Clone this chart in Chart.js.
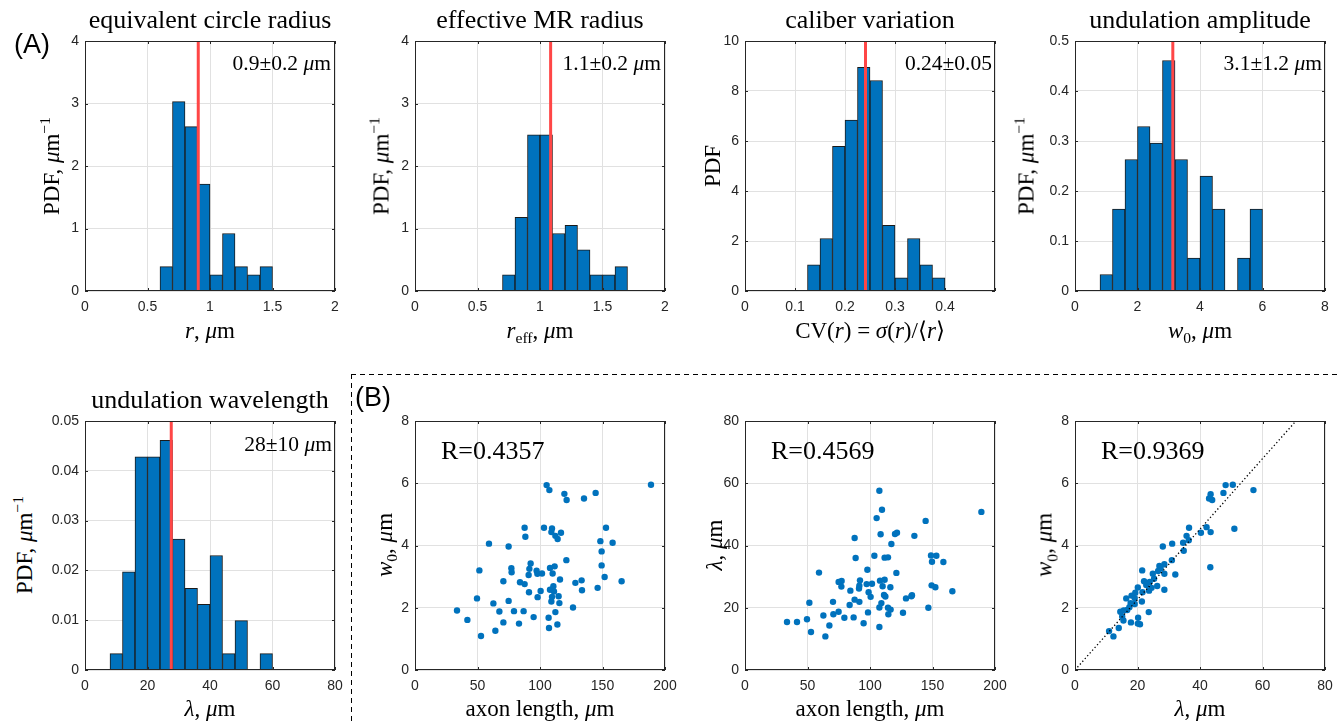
<!DOCTYPE html>
<html>
<head>
<meta charset="utf-8">
<script src="https://cdn.jsdelivr.net/npm/chart.js@4.4.1/dist/chart.umd.min.js"></script>
<style>
  body { margin: 0; background: #fff; }
  #page { position: relative; width: 1341px; height: 722px; overflow: hidden; background: #fff; }
  canvas { position: absolute; }
  .txt { position: absolute; white-space: nowrap; font-family: "Liberation Serif", serif; color: #000; line-height: 1; }
  .txt sub, .txt sup { font-size: 0.68em; line-height: 0; }
  .tag { position: absolute; font-family: "Liberation Sans", Arial, sans-serif; font-size: 27px; color: #000; line-height: 1; }
  .dashH { position: absolute; height: 1.4px; background: repeating-linear-gradient(to right, #000 0 5px, transparent 5px 9px); }
  .dashV { position: absolute; width: 1.4px; background: repeating-linear-gradient(to bottom, #000 0 5px, transparent 5px 9px); }
</style>
</head>
<body>
<div id="page"></div>
<script>
// ---- histogram data (PDF per bin) ----
var rCenters = [0.65, 0.75, 0.85, 0.95, 1.05, 1.15, 1.25, 1.35, 1.45];
var rPdf = [0.39, 3.03, 2.63, 1.71, 0.26, 0.92, 0.39, 0.26, 0.39];
var rMean = 0.906;

var reffCenters = [0.75, 0.85, 0.95, 1.05, 1.15, 1.25, 1.35, 1.45, 1.55, 1.65];
var reffPdf = [0.26, 1.18, 2.50, 2.50, 0.92, 1.05, 0.66, 0.26, 0.26, 0.39];
var reffMean = 1.085;

var cvCenters = [0.1375, 0.1625, 0.1875, 0.2125, 0.2375, 0.2625, 0.2875, 0.3125, 0.3375, 0.3625, 0.3875];
var cvPdf = [1.05, 2.10, 5.79, 6.84, 8.95, 8.42, 2.63, 0.53, 2.10, 1.05, 0.53];
var cvMean = 0.241;

var w0Centers = [1.0, 1.4, 1.8, 2.2, 2.6, 3.0, 3.4, 3.8, 4.2, 4.6, 5.0, 5.4, 5.8];
var w0Pdf = [0.033, 0.164, 0.263, 0.329, 0.296, 0.461, 0.263, 0.066, 0.230, 0.164, 0, 0.066, 0.164];
var w0Mean = 3.13;

var lamCenters = [10, 14, 18, 22, 26, 30, 34, 38, 42, 46, 50, 54, 58];
var lamPdf = [0.0033, 0.0197, 0.0428, 0.0428, 0.0461, 0.0263, 0.0164, 0.0132, 0.0230, 0.0033, 0.0099, 0, 0.0033];
var lamMean = 27.6;

// ---- scatter data ----
var lenA = [105.3, 107.5, 119.5, 121.3, 135.2, 144.5, 188.8, 87.7, 88.3, 103.2, 109.6, 109.1, 116.8, 112.3, 114.1, 152.8, 148.3, 158.1, 59.2, 74.9,
  149.3, 121.1, 149.3, 151.7, 165.3, 146.1, 51.5, 77.1, 77.3, 92.5, 91.5, 90.9, 97.3, 97.9, 101.6, 108, 111.7, 110.1, 116, 70.7,
  84, 87.7, 91.2, 100.5, 98.1, 108, 110.7, 111.2, 109.6, 114.9, 109.1, 115.5, 128.3, 133.3, 133.6, 49.6, 62.7, 74.9, 67.5, 79.2,
  86.9, 70.7, 83.2, 94.9, 106.9, 112.3, 113.9, 107.2, 126.4, 33.6, 41.9, 52.8, 64.3];
var w0A = [5.94, 5.78, 5.66, 5.46, 5.51, 5.69, 5.95, 4.57, 4.28, 4.57, 4.55, 4.43, 4.41, 4.31, 4.21, 4.57, 4.14, 4.09, 4.06, 3.97,
  3.81, 3.53, 3.36, 2.99, 2.85, 2.64, 3.20, 3.27, 3.14, 3.42, 3.25, 3.05, 3.19, 3.09, 3.10, 3.28, 3.33, 3.10, 2.91, 2.85,
  2.82, 2.76, 2.50, 2.54, 2.34, 2.58, 2.69, 2.52, 2.35, 2.37, 2.20, 2.15, 2.80, 2.88, 2.56, 2.30, 2.14, 2.22, 1.88, 1.89,
  1.89, 1.53, 1.49, 1.70, 1.68, 1.86, 1.46, 1.35, 2.01, 1.91, 1.61, 1.09, 1.26];

var lenB = [107.5, 109.6, 105.3, 144.5, 189.1, 87.7, 108.5, 120, 121.6, 135.5, 117.1, 88.5, 103.5, 111.7, 114.4, 148.8, 153.1, 149.6, 158.7, 59.2,
  97.9, 121.1, 74.9, 77.3, 77.1, 84.3, 92, 91.5, 91.2, 97.3, 101.6, 108, 111.7, 110.1, 116.3, 98.9, 100.5, 111.2, 112.3, 149.3,
  152.3, 165.9, 133.6, 128.8, 133.1, 51.5, 70.4, 87.7, 91.5, 83.7, 109.1, 107.5, 114.4, 116.5, 114.7, 62.7, 70.7, 74.9, 79.5, 86.9,
  98.4, 126.4, 146.7, 33.6, 41.6, 49.6, 67.5, 52.8, 64.3, 94.9, 107.5];
var lamB = [57.6, 51.5, 48.8, 47.9, 50.8, 42.4, 43.6, 43.7, 44.1, 43.1, 40.5, 36.0, 36.7, 36.1, 36.2, 36.8, 36.7, 34.8, 34.7, 31.3,
  32.2, 31.2, 28.3, 28.6, 26.8, 25.5, 28.8, 27.1, 26.2, 27.6, 27.7, 28.7, 29.0, 26.9, 26.6, 25.0, 23.5, 24.1, 23.6, 27.2,
  26.6, 25.3, 24.0, 23.0, 23.7, 21.6, 21.9, 22.6, 21.9, 20.9, 21.5, 20.1, 20.0, 19.4, 17.9, 17.5, 17.9, 18.7, 16.8, 16.9,
  18.5, 18.4, 20.0, 15.4, 15.4, 16.3, 14.3, 12.2, 10.8, 15.0, 13.8];

var lamC = [48.2, 50.5, 57.1, 47.5, 43.4, 42.9, 43.9, 36.5, 42.1, 40.3, 43.4, 51.0, 35.7, 36.4, 34.6, 34.8, 28.1, 31.1, 43.3, 31.0,
  28.6, 27.0, 27.4, 26.6, 28.6, 32.1, 21.5, 24.9, 25.3, 23.9, 22.1, 22.8, 26.3, 24.5, 23.7, 28.6, 20.1, 21.6, 19.3, 18.1,
  16.4, 19.1, 21.4, 17.8, 19.1, 17.4, 15.6, 14.5, 16.7, 23.6, 15.1, 15.5, 17.9, 20.2, 20.1, 20.8, 14.0, 10.9, 12.3];
var w0C = [5.94, 5.95, 5.78, 5.69, 5.65, 5.51, 5.46, 4.57, 4.59, 4.41, 4.43, 4.54, 4.31, 4.17, 4.09, 3.83, 3.97, 4.06, 3.30, 3.53,
  3.40, 3.34, 3.26, 3.18, 3.09, 3.07, 3.20, 3.09, 2.93, 2.83, 2.85, 2.73, 2.70, 2.64, 2.55, 2.58, 2.65, 2.50, 2.48, 2.39,
  2.30, 2.31, 2.20, 2.15, 2.12, 2.02, 1.91, 1.87, 1.93, 1.86, 1.72, 1.59, 1.53, 1.68, 1.49, 1.47, 1.35, 1.25, 1.08];
var refLam = [0, 70.7];
var refW0 = [0, 8];

// ---- styling ----
Chart.defaults.animation = false;
Chart.defaults.plugins.legend.display = false;
Chart.defaults.plugins.tooltip.enabled = false;

var BLUE = '#0072bd';
var RED = '#ff4646';
var AXIS = '#262626';
var GRID = '#e1e1e1';
var tickFont = { family: 'Liberation Sans', size: 14 };
var page = document.getElementById('page');

var boxPlugin = {
  id: 'box',
  afterDatasetsDraw: function (chart) {
    var a = chart.chartArea, ctx = chart.ctx;
    ctx.save();
    ctx.strokeStyle = AXIS;
    ctx.lineWidth = 1;
    ctx.strokeRect(a.left + 0.5, a.top + 0.5, a.right - a.left - 1, a.bottom - a.top - 1);
    ctx.beginPath();
    chart.scales.x.ticks.forEach(function (t) {
      var px = Math.round(chart.scales.x.getPixelForValue(t.value)) + 0.5;
      ctx.moveTo(px, a.bottom); ctx.lineTo(px, a.bottom - 3);
      ctx.moveTo(px, a.top); ctx.lineTo(px, a.top + 3);
    });
    chart.scales.y.ticks.forEach(function (t) {
      var py = Math.round(chart.scales.y.getPixelForValue(t.value)) + 0.5;
      ctx.moveTo(a.left, py); ctx.lineTo(a.left + 3, py);
      ctx.moveTo(a.right, py); ctx.lineTo(a.right - 3, py);
    });
    ctx.stroke();
    ctx.restore();
  }
};

function fmt(v) { return String(+v.toFixed(3)); }

function axes(xMax, xStep, yMax, yStep, hideXMax) {
  return {
    x: {
      type: 'linear', min: 0, max: xMax, offset: false,
      ticks: { stepSize: xStep, font: tickFont, color: AXIS, padding: 8, maxRotation: 0, autoSkip: false,
        callback: function (v) { return (hideXMax && v === xMax) ? '' : fmt(v); } },
      grid: { color: GRID, drawTicks: false, offset: false },
      border: { display: false },
      afterFit: function (s) { s.height = 30; s.paddingLeft = 0; s.paddingRight = 0; }
    },
    y: {
      min: 0, max: yMax,
      ticks: { stepSize: yStep, font: tickFont, color: AXIS, padding: 6, autoSkip: false,
        callback: function (v) { return fmt(v); } },
      grid: { color: GRID, drawTicks: false },
      border: { display: false },
      afterFit: function (s) { s.width = 45; s.paddingTop = 0; s.paddingBottom = 0; }
    }
  };
}

function makeCanvas(left, top, h) {
  var c = document.createElement('canvas');
  c.width = 320; c.height = 40 + h + 30;
  c.style.left = (left - 45) + 'px';
  c.style.top = (top - 40) + 'px';
  page.appendChild(c);
  return c;
}

function titleOpt(title) {
  return {
    display: !!title, text: title || '', fullSize: false, color: '#000',
    font: { family: 'Liberation Serif', size: 26, weight: 'normal', lineHeight: 1.2 },
    padding: { top: 5, bottom: 3.8 }
  };
}

function hist(left, top, h, centers, pdf, mean, xMax, xStep, yMax, yStep, title, hideXMax) {
  var c = makeCanvas(left, top, h);
  var bars = centers.map(function (x, i) { return { x: x, y: pdf[i] === 0 ? null : pdf[i] }; });
  new Chart(c, {
    type: 'bar',
    data: {
      datasets: [
        { type: 'line', data: [{ x: mean, y: 0 }, { x: mean, y: yMax }], borderColor: RED, borderWidth: 3,
          pointRadius: 0, order: 0 },
        { data: bars, backgroundColor: BLUE, borderColor: '#1a1a1a', borderWidth: 1,
          barPercentage: 1, categoryPercentage: 1, order: 1 }
      ]
    },
    options: {
      responsive: false,
      layout: { padding: { top: title ? 0 : 40, right: 25, left: 0, bottom: 0 } },
      plugins: { title: titleOpt(title) },
      scales: axes(xMax, xStep, yMax, yStep, hideXMax)
    },
    plugins: [boxPlugin]
  });
}

function scatter(left, top, h, xs, ys, xMax, xStep, yMax, yStep, ref) {
  var c = makeCanvas(left, top, h);
  var ds = [{ data: xs.map(function (x, i) { return { x: x, y: ys[i] }; }), backgroundColor: BLUE,
    borderWidth: 0, pointRadius: 3.2, order: 1 }];
  if (ref) {
    ds.unshift({ type: 'line', data: ref[0].map(function (x, i) { return { x: x, y: ref[1][i] }; }),
      borderColor: '#000', borderWidth: 1.3, borderDash: [1.3, 2.4], pointRadius: 0, order: 0 });
  }
  new Chart(c, {
    type: 'scatter',
    data: { datasets: ds },
    options: {
      responsive: false,
      layout: { padding: { top: 40, right: 25, left: 0, bottom: 0 } },
      scales: axes(xMax, xStep, yMax, yStep, false)
    },
    plugins: [boxPlugin]
  });
}

function text(html, x, y, size, align, rotate) {
  var d = document.createElement('div');
  d.className = 'txt';
  d.innerHTML = html;
  d.style.left = x + 'px';
  d.style.top = y + 'px';
  d.style.fontSize = size + 'px';
  var tx = align === 'right' ? '-100%' : (align === 'left' ? '0' : '-50%');
  d.style.transform = 'translate(' + tx + ',-50%)' + (rotate ? ' rotate(-90deg)' : '');
  page.appendChild(d);
}

// panels, row A
hist(85, 41, 250, rCenters, rPdf, rMean, 2, 0.5, 4, 1, 'equivalent circle radius');
hist(415, 41, 250, reffCenters, reffPdf, reffMean, 2, 0.5, 4, 1, 'effective MR radius');
hist(745, 41, 250, cvCenters, cvPdf, cvMean, 0.5, 0.1, 10, 2, 'caliber variation', true);
hist(1075, 41, 250, w0Centers, w0Pdf, w0Mean, 8, 2, 0.5, 0.1, 'undulation amplitude');
// row B
hist(85, 421, 249, lamCenters, lamPdf, lamMean, 80, 20, 0.05, 0.01, 'undulation wavelength');
scatter(415, 421, 249, lenA, w0A, 200, 50, 8, 2);
scatter(745, 421, 249, lenB, lamB, 200, 50, 80, 20);
scatter(1075, 421, 249, lamC, w0C, 80, 20, 8, 2, [refLam, refW0]);

// axis labels
var MU = '<i>μ</i>m';
var PDFU = 'PDF, ' + MU + '<sup>−1</sup>';
text(PDFU, 51, 166, 23, 'center', true);
text(PDFU, 381, 166, 23, 'center', true);
text('PDF', 712, 166, 23, 'center', true);
text(PDFU, 1026, 166, 23, 'center', true);
text(PDFU, 24, 545, 23, 'center', true);
text('<i>w</i><sub>0</sub>, ' + MU, 384, 545, 23, 'center', true);
text('<i>λ</i>, ' + MU, 714, 545, 23, 'center', true);
text('<i>w</i><sub>0</sub>, ' + MU, 1044, 545, 23, 'center', true);

text('<i>r</i>, ' + MU, 210, 330, 23, 'center');
text('<i>r</i><sub>eff</sub>, ' + MU, 540, 330, 23, 'center');
text('CV(<i>r</i>) = <i>σ</i>(<i>r</i>)/⟨<i>r</i>⟩', 870, 330, 23, 'center');
text('<i>w</i><sub>0</sub>, ' + MU, 1200, 330, 23, 'center');
text('<i>λ</i>, ' + MU, 210, 708, 23, 'center');
text('axon length, ' + MU, 540, 708, 23, 'center');
text('axon length, ' + MU, 870, 708, 23, 'center');
text('<i>λ</i>, ' + MU, 1200, 708, 23, 'center');

// in-panel annotations
text('0.9±0.2 ' + MU, 331, 64, 21.5, 'right');
text('1.1±0.2 ' + MU, 661, 64, 21.5, 'right');
text('0.24±0.05', 992, 64, 21.5, 'right');
text('3.1±1.2 ' + MU, 1322, 64, 21.5, 'right');
text('28±10 ' + MU, 332, 445, 21.5, 'right');
text('R=0.4357', 441, 451, 26, 'left');
text('R=0.4569', 771, 451, 26, 'left');
text('R=0.9369', 1101, 451, 26, 'left');

// panel tags and separator
var tA = document.createElement('div'); tA.className = 'tag'; tA.textContent = '(A)';
tA.style.left = '14px'; tA.style.top = '31px'; page.appendChild(tA);
var tB = document.createElement('div'); tB.className = 'tag'; tB.textContent = '(B)';
tB.style.left = '355px'; tB.style.top = '384px'; page.appendChild(tB);
var dh = document.createElement('div'); dh.className = 'dashH';
dh.style.left = '351px'; dh.style.top = '374px'; dh.style.width = '990px'; page.appendChild(dh);
var dv = document.createElement('div'); dv.className = 'dashV';
dv.style.left = '351px'; dv.style.top = '374px'; dv.style.height = '348px'; page.appendChild(dv);
</script>
</body>
</html>
